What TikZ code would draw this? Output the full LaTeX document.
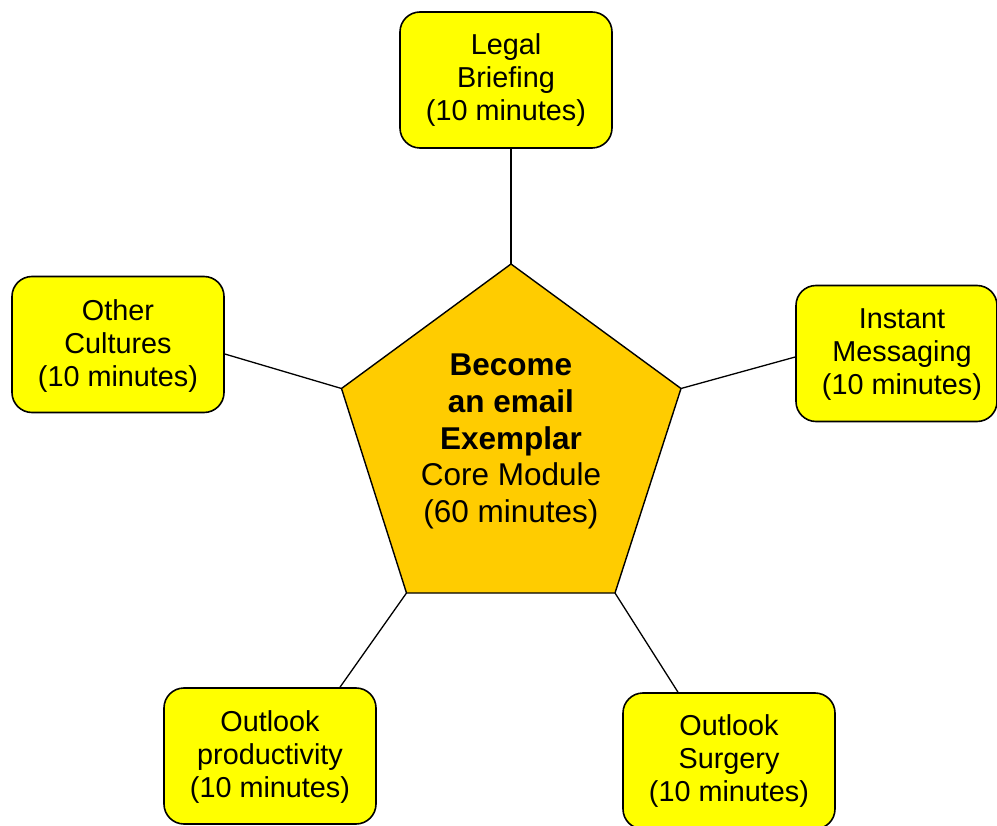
\documentclass[tikz,border=0pt]{standalone}
\usepackage{fontspec}
\setmainfont{Liberation Sans}
\usetikzlibrary{calc}
\definecolor{boxyellow}{HTML}{FFFF00}
\definecolor{coreorange}{HTML}{FFCC00}
\begin{document}
\begin{tikzpicture}[x=1pt,y=-1pt,
  box/.style={draw=black, line width=1.6pt, fill=boxyellow, rounded corners=20pt,
    minimum width=212pt, minimum height=136pt, inner sep=0pt},
  boxtext/.style={align=center, font=\fontsize{28.8}{33}\selectfont, inner sep=0pt},
  coretext/.style={align=center, font=\fontsize{31.5}{36.7}\selectfont, inner sep=0pt},
  link/.style={draw=black, line width=1.3pt}]
\useasboundingbox (0,0) rectangle (997,826);
\begin{scope}
\clip (0,0) rectangle (997,826);
% pentagon
\coordinate (pt) at (511,264);
\coordinate (pl) at (341.5,388.5);
\coordinate (pr) at (681,388.5);
\coordinate (pbl) at (406.5,593);
\coordinate (pbr) at (615,593);
\draw[line width=1.4pt, fill=coreorange, line join=miter] (pt) -- (pr) -- (pbr) -- (pbl) -- (pl) -- cycle;
\node[coretext] (core) at (511,441.5) {\textbf{Become}\\\textbf{an email}\\\textbf{Exemplar}\\Core Module\\(60 minutes)};
% boxes
\node[box] (lb) at (506,80) {};
\node[boxtext] (lbt) at (506,80.5) {Legal\\Briefing\\(10 minutes)};
\node[box] (oc) at (118,344.5) {};
\node[boxtext] (oct) at (118,346) {Other\\Cultures\\(10 minutes)};
\node[box, minimum width=201pt] (im) at (896.5,353.5) {};
\node[boxtext] (imt) at (902,354.5) {Instant\\Messaging\\(10 minutes)};
\node[box] (op) at (270,756) {};
\node[boxtext] (opt) at (270,757) {Outlook\\productivity\\(10 minutes)};
\node[box] (os) at (729,761) {};
\node[boxtext] (ost) at (729,761) {Outlook\\Surgery\\(10 minutes)};
% connectors
\draw[link] ($(lb.south)+(5,0)$) -- (pt);
\draw[link] ($(oc.east)+(0,9.5)$) -- (pl);
\draw[link] ($(im.west)+(0,3.5)$) -- (pr);
\draw[link] ($(op.north)+(70,0)$) -- (pbl);
\draw[link] ($(os.north)+(-51,0)$) -- (pbr);
\end{scope}
\end{tikzpicture}
\end{document}
